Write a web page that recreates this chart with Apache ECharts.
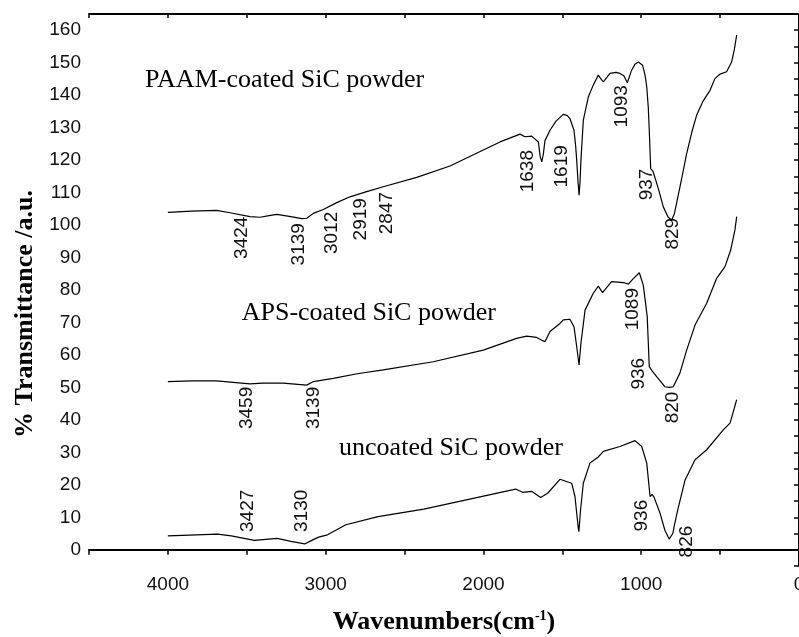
<!DOCTYPE html>
<html>
<head>
<meta charset="utf-8">
<script src="https://cdn.jsdelivr.net/npm/echarts@6/dist/echarts.min.js"></script>
<style>
  html, body { margin: 0; padding: 0; background: #fff; }
  #chart { width: 799px; height: 637px; }
</style>
</head>
<body>
<div id="chart"></div>
<script>
// PAAM-coated SiC powder
const paamWn = [4000, 3850, 3691, 3606, 3480, 3416, 3350, 3310, 3230, 3150, 3120, 3078, 3015, 2930, 2846, 2740, 2635, 2423, 2212, 2001, 1895, 1768, 1737, 1694, 1652, 1640, 1630, 1620, 1610, 1578, 1540, 1494, 1470, 1452, 1426, 1415, 1409, 1400, 1394, 1388, 1382, 1367, 1335, 1304, 1272, 1255, 1240, 1198, 1160, 1135, 1110, 1088, 1061, 1040, 1018, 991, 975, 965, 955, 949, 940, 925, 913, 890, 860, 830, 807, 790, 776, 745, 712, 680, 649, 610, 564, 533, 500, 459, 427, 410, 395];
const paamT = [103.9, 104.3, 104.5, 103.8, 102.6, 102.4, 103.0, 103.3, 102.7, 102.0, 102.1, 103.6, 104.8, 106.9, 108.7, 110.3, 111.8, 114.7, 118.2, 123.1, 125.6, 128.0, 127.2, 127.4, 125.6, 121.0, 119.5, 122.0, 126.0, 129.2, 132.0, 134.1, 133.8, 132.8, 129.2, 124.0, 120.0, 113.0, 109.2, 113.0, 120.0, 132.3, 139.5, 143.1, 146.2, 145.0, 144.1, 146.7, 147.0, 146.7, 146.0, 143.8, 147.7, 149.5, 150.2, 149.2, 146.0, 142.6, 136.0, 129.2, 117.4, 116.5, 115.9, 111.0, 105.6, 102.5, 101.5, 103.5, 106.7, 114.0, 122.0, 128.5, 133.8, 138.0, 141.5, 145.1, 146.5, 147.2, 150.2, 154.0, 158.5];

// APS-coated SiC powder
const apsWn = [4000, 3850, 3691, 3480, 3400, 3269, 3120, 3078, 2952, 2800, 2635, 2318, 2001, 1790, 1726, 1663, 1630, 1610, 1578, 1515, 1494, 1452, 1426, 1409, 1394, 1382, 1356, 1304, 1272, 1245, 1188, 1113, 1082, 1050, 1012, 987, 962, 949, 930, 902, 849, 820, 797, 755, 712, 659, 585, 522, 469, 433, 406, 395];
const apsT = [51.8, 52.0, 52.0, 51.1, 51.3, 51.3, 50.7, 51.8, 52.8, 54.2, 55.4, 57.9, 61.5, 65.1, 65.8, 65.4, 64.5, 64.1, 67.2, 69.7, 70.8, 71.0, 68.7, 62.6, 56.9, 63.6, 73.8, 79.0, 81.2, 79.2, 82.6, 82.3, 81.8, 83.5, 85.3, 81.5, 71.8, 56.4, 55.0, 53.3, 50.2, 50.0, 50.2, 54.4, 61.5, 69.2, 75.9, 83.6, 87.2, 92.3, 98.5, 102.6];

// uncoated SiC powder
const rawWn = [4000, 3685, 3598, 3452, 3307, 3220, 3133, 3104, 3045, 2988, 2872, 2668, 2378, 2087, 1796, 1752, 1695, 1637, 1593, 1515, 1441, 1420, 1399, 1395, 1385, 1367, 1325, 1274, 1240, 1135, 1039, 997, 965, 944, 930, 919, 881, 850, 823, 800, 790, 770, 722, 659, 585, 480, 437, 395];
const rawT = [4.3, 4.8, 4.3, 2.9, 3.5, 2.6, 1.8, 2.5, 3.9, 4.6, 7.7, 10.2, 12.5, 15.6, 18.7, 17.7, 18.0, 16.1, 17.4, 21.7, 20.5, 16.4, 6.7, 5.6, 12.0, 20.5, 26.7, 28.5, 30.3, 31.8, 33.6, 31.8, 26.7, 16.4, 17.0, 16.2, 11.3, 6.0, 3.3, 5.0, 7.5, 12.0, 21.5, 27.7, 30.8, 36.9, 39.0, 46.2];

// peak labels: text, anchor wavenumber, anchor transmittance (top end of the text)
const peakText = ['3424', '3139', '3012', '2919', '2847', '1638', '1619', '1093', '937', '829',
                  '3459', '3139', '1089', '936', '820',
                  '3427', '3130', '936', '826'];
const peakWn = [3532, 3173, 2962, 2778, 2613, 1716, 1504, 1124, 965, 797,
                3500, 3078, 1054, 1014, 803,
                3496, 3153, 997, 714];
const peakT = [102.6, 100.6, 104.1, 108.3, 110.2, 123.1, 124.6, 143.1, 117.4, 102.2,
               50.2, 50.2, 80.6, 59.1, 48.7,
               18.5, 18.5, 15.4, 7.4];

// curve names
const nameText = ['PAAM-coated SiC powder', 'APS-coated SiC powder', 'uncoated SiC powder'];
const nameWn = [4145, 3532, 2915];
const nameT = [144.6, 73.0, 31.4];

const pairs = (xs, ys) => xs.map((x, i) => [x, ys[i]]);

const chart = echarts.init(document.getElementById('chart'));

const lineStyle = { color: '#000', width: 1.2 };
const serif = '"Liberation Serif", "Times New Roman", serif';
const sans = '"Liberation Sans", Arial, sans-serif';

chart.setOption({
  animation: false,
  backgroundColor: '#fff',
  grid: { left: 89, right: 0, top: 14, bottom: 71, outerBoundsMode: 'none', containLabel: false },
  xAxis: [
    {
      type: 'value',
      min: 0,
      max: 4500,
      interval: 500,
      inverse: true,
      name: '{a|Wavenumbers(cm}{s|-1}{a|)}',
      nameLocation: 'middle',
      nameGap: 43,
      nameTextStyle: {
        rich: {
          a: { fontFamily: serif, fontWeight: 'bold', fontSize: 26, color: '#000' },
          s: { fontFamily: serif, fontWeight: 'bold', fontSize: 14, color: '#000', verticalAlign: 'top', padding: [0, 0, 10, 0] }
        }
      },
      axisLine: { lineStyle: { color: '#000', width: 2 } },
      axisTick: { inside: false, length: 5, lineStyle: { color: '#000', width: 1.5 } },
      axisLabel: {
        margin: 9,
        fontFamily: sans,
        fontSize: 19,
        color: '#111',
        formatter: v => (v % 1000 === 0 ? String(v) : '')
      },
      splitLine: { show: false }
    },
    {
      type: 'value',
      position: 'top',
      min: 0,
      max: 4500,
      interval: 500,
      inverse: true,
      axisLine: { lineStyle: { color: '#000', width: 2 } },
      axisTick: { inside: true, length: 4, lineStyle: { color: '#000', width: 1.5 } },
      axisLabel: { show: false },
      splitLine: { show: false }
    }
  ],
  yAxis: {
    type: 'value',
    min: -5,
    max: 165,
    interval: 5,
    name: '% Transmittance /a.u.',
    nameLocation: 'middle',
    nameRotate: 90,
    nameGap: 45,
    nameTextStyle: { fontFamily: serif, fontWeight: 'bold', fontSize: 26, color: '#000', padding: [0, 48, 0, 0] },
    axisLine: { show: true, lineStyle: { color: '#000', width: 2 } },
    axisTick: { show: true, inside: false, length: 5, lineStyle: { color: '#000', width: 1.5 } },
    axisLabel: {
      margin: 8,
      fontFamily: sans,
      fontSize: 19,
      color: '#111',
      formatter: v => (v % 10 === 0 ? String(v) : '')
    },
    splitLine: { show: false }
  },
  series: [
    { type: 'line', data: pairs(paamWn, paamT), showSymbol: false, symbol: 'none', lineStyle },
    { type: 'line', data: pairs(apsWn, apsT), showSymbol: false, symbol: 'none', lineStyle },
    { type: 'line', data: pairs(rawWn, rawT), showSymbol: false, symbol: 'none', lineStyle }
  ]
});

// annotations anchored in data coordinates
const toPx = (w, t) => chart.convertToPixel({ xAxisIndex: 0, yAxisIndex: 0 }, [w, t]);
const graphics = [];
peakText.forEach((txt, i) => {
  const p = toPx(peakWn[i], peakT[i]);
  graphics.push({
    type: 'text',
    x: p[0],
    y: p[1],
    rotation: Math.PI / 2,
    style: { text: txt, font: '19px ' + sans, fill: '#111', align: 'right', verticalAlign: 'middle' }
  });
});
nameText.forEach((txt, i) => {
  const p = toPx(nameWn[i], nameT[i]);
  graphics.push({
    type: 'text',
    x: p[0],
    y: p[1],
    style: { text: txt, font: '26px ' + serif, fill: '#000', align: 'left', verticalAlign: 'middle' }
  });
});
chart.setOption({ graphic: graphics });
</script>
</body>
</html>
